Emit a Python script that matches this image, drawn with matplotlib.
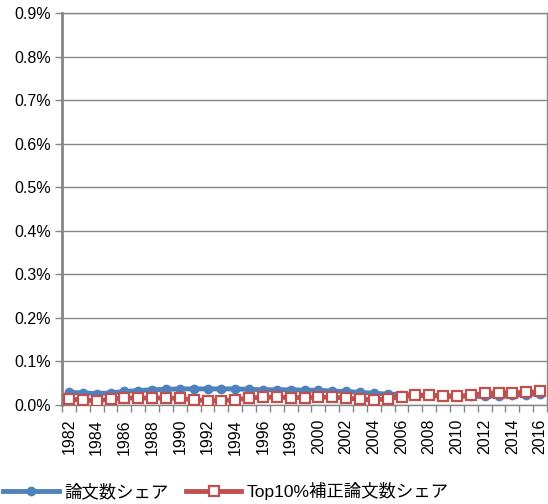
import numpy as np
import matplotlib.pyplot as plt
from matplotlib.ticker import FuncFormatter

plt.rcParams['font.family'] = ['Liberation Sans', 'Noto Sans CJK JP', 'DejaVu Sans']

# Data (share, %)
years = list(range(1982, 2017))
paper_share = [0.029, 0.028, 0.026, 0.028, 0.031, 0.033, 0.035, 0.036, 0.037, 0.037,
               0.037, 0.037, 0.037, 0.036, 0.035, 0.035, 0.035, 0.034, 0.034, 0.032,
               0.031, 0.029, 0.027, 0.025, 0.024, 0.023, 0.022, 0.021, 0.021, 0.020,
               0.020, 0.021, 0.022, 0.024, 0.026]
top10_share = [0.013, 0.012, 0.009, 0.014, 0.016, 0.016, 0.016, 0.016, 0.015, 0.012,
               0.010, 0.010, 0.012, 0.016, 0.018, 0.018, 0.017, 0.017, 0.018, 0.018,
               0.016, 0.013, 0.012, 0.014, 0.019, 0.022, 0.022, 0.020, 0.020, 0.022,
               0.027, 0.028, 0.028, 0.029, 0.031]
series_names = ['論文数シェア', 'Top10%補正論文数シェア']

blue = '#4F81BD'
red = '#C0504D'
gray = '#868686'

fig = plt.figure(figsize=(5.48, 5.04), dpi=100)
ax = fig.add_axes([62 / 548, 1 - 405 / 504, 485 / 548, 392 / 504])

x = np.arange(len(years))
ax.plot(x, paper_share, color=blue, lw=3.5, marker='o', ms=6,
        mfc=blue, mec=blue, label=series_names[0], zorder=3)
ax.plot(x, top10_share, color=red, lw=3.5, marker='s', ms=6.5,
        mfc='white', mec=red, mew=1.6, label=series_names[1], zorder=4)

ax.set_xlim(-0.5, len(years) - 0.5)
ax.set_ylim(0, 0.9)
ax.set_yticks(np.arange(0, 0.91, 0.1))
ax.yaxis.set_major_formatter(FuncFormatter(lambda v, p: f'{v:.1f}%'))
ax.grid(axis='y', color=gray, lw=1)
ax.set_axisbelow(True)

ax.set_xticks(x[::2])
ax.set_xticklabels([str(y) for y in years[::2]], rotation=90)
ax.set_xticks(np.arange(-0.5, len(years), 1), minor=True)
ax.tick_params(axis='x', which='major', length=0, pad=10, labelsize=11.5)
ax.tick_params(axis='x', which='minor', length=5, color=gray, width=1)
ax.tick_params(axis='y', length=5, color=gray, width=1, labelsize=11.5, pad=3)

for side in ['top', 'right', 'bottom']:
    ax.spines[side].set_color(gray)
    ax.spines[side].set_linewidth(1)
ax.spines['left'].set_color(gray)
ax.spines['left'].set_linewidth(2)

fig.legend(loc='center left', bbox_to_anchor=(0.0, 1 - 491 / 504), ncol=2,
           frameon=False, fontsize=12.5, handlelength=3.2, handletextpad=0.3,
           columnspacing=1.0, borderaxespad=0, borderpad=0.2)

fig.savefig('out.png', dpi=100)
